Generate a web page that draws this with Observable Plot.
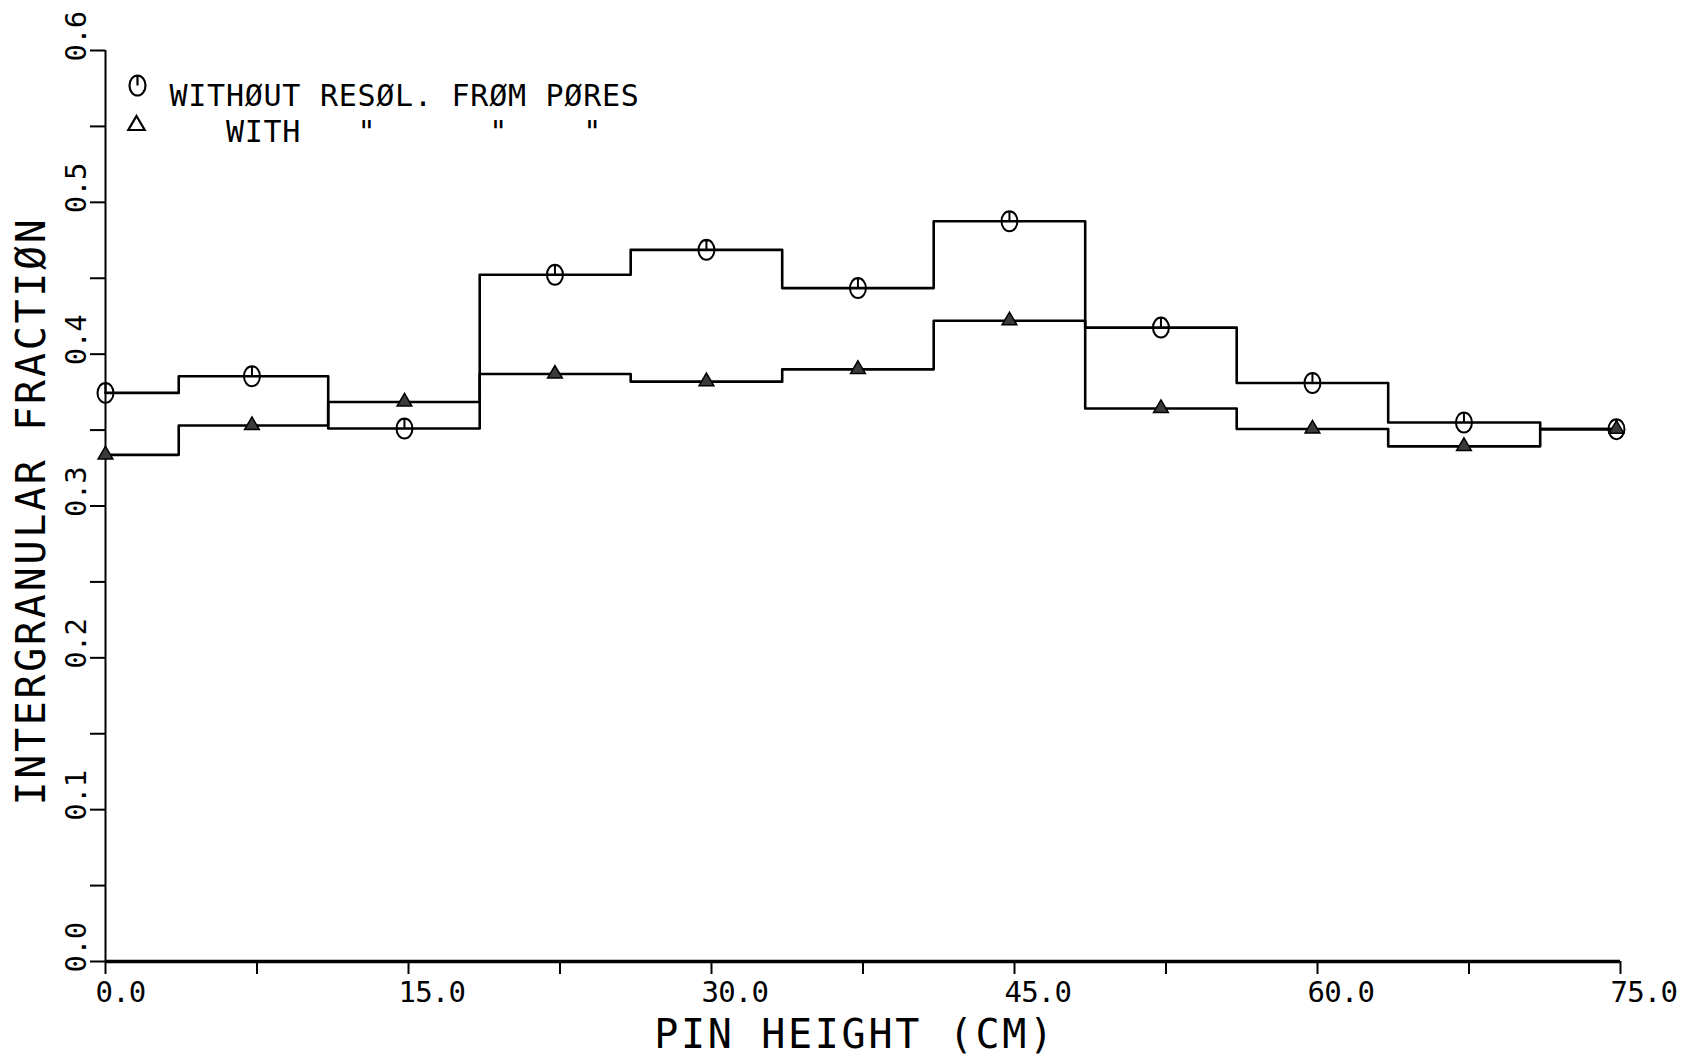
<!DOCTYPE html>
<html>
<head>
<meta charset="utf-8">
<script src="https://cdn.jsdelivr.net/npm/d3@7"></script>
<script src="https://cdn.jsdelivr.net/npm/@observablehq/plot@0.6"></script>
<style>
  html, body { margin: 0; padding: 0; background: #fff; overflow: hidden; }
  #chart svg { display: block; }
  svg text { white-space: pre; }
  g[font-size="40"] { letter-spacing: 2.7px; }
  g[font-size="29"] { letter-spacing: -0.8px; }
  g[font-size="30"] { letter-spacing: 0.74px; }
</style>
</head>
<body>
<div id="chart"></div>
<script>
// ---- data ----
const pinHeight = [0, 7.25, 14.8, 22.25, 29.75, 37.25, 44.75, 52.25, 59.75, 67.25, 74.8];
const withoutResolution = [0.3745, 0.3855, 0.351, 0.4523, 0.4687, 0.4435, 0.4875, 0.4175, 0.381, 0.355, 0.3506];
const withResolution = [0.3337, 0.353, 0.3685, 0.3869, 0.3819, 0.390, 0.422, 0.3642, 0.3507, 0.3393, 0.3506];

const xTicks = [0, 7.5, 15, 22.5, 30, 37.5, 45, 52.5, 60, 67.5, 75];
const xTickLabels = [0, 15, 30, 45, 60, 75];
const yTicks = [0, 0.05, 0.1, 0.15, 0.2, 0.25, 0.3, 0.35, 0.4, 0.45, 0.5, 0.55, 0.6];
const yTickLabels = [0, 0.1, 0.2, 0.3, 0.4, 0.5, 0.6];

const xTitle = "PIN HEIGHT (CM)";
const yTitle = "INTERGRANULAR FRACTIØN";
const legendLine1 = "WITHØUT RESØL. FRØM PØRES";
const legendLine2 = '   WITH   "      "    "';

// ---- tables built from the arrays ----
const seriesA = pinHeight.map((h, i) => ({h, v: withoutResolution[i]}));
const seriesB = pinHeight.map((h, i) => ({h, v: withResolution[i]}));

// plotter-style symbols
const ovalSymbol = {
  draw(ctx, size) {
    const r = Math.sqrt(size / Math.PI);
    const rx = r * 0.8, ry = r, k = 0.5523;
    ctx.moveTo(rx, 0);
    ctx.bezierCurveTo(rx, k * ry, k * rx, ry, 0, ry);
    ctx.bezierCurveTo(-k * rx, ry, -rx, k * ry, -rx, 0);
    ctx.bezierCurveTo(-rx, -k * ry, -k * rx, -ry, 0, -ry);
    ctx.bezierCurveTo(k * rx, -ry, rx, -k * ry, rx, 0);
    ctx.closePath();
    ctx.moveTo(0, -ry);
    ctx.lineTo(0, 0);
  }
};
const triSymbol = {
  draw(ctx, size) {
    const r = Math.sqrt(size / Math.PI);
    ctx.moveTo(0, -r * 0.95);
    ctx.lineTo(r * 0.82, r * 0.45);
    ctx.lineTo(-r * 0.82, r * 0.45);
    ctx.closePath();
  }
};

const font = "DejaVu Sans Mono";

const chart = Plot.plot({
  width: 1693,
  height: 1056,
  marginLeft: 105,
  marginRight: 73,
  marginTop: 50,
  marginBottom: 95,
  style: {fontFamily: font, background: "white", color: "black", overflow: "visible"},
  x: {domain: [0, 75]},
  y: {domain: [0, 0.6]},
  marks: [
    // axes
    Plot.axisX({ticks: xTicks, tickSize: 13, tickFormat: () => "", label: null, strokeWidth: 2}),
    Plot.axisY({ticks: yTicks, tickSize: 15, tickFormat: () => "", label: null, strokeWidth: 2}),
    Plot.ruleY([0], {strokeWidth: 3.5, stroke: "black"}),
    Plot.ruleX([0], {strokeWidth: 2, stroke: "black"}),
    // tick labels
    Plot.text(xTickLabels, {
      x: d => d, frameAnchor: "bottom", text: d => d.toFixed(1),
      textAnchor: "start", lineAnchor: "top", dx: -10, dy: 20,
      fontSize: 29, fontFamily: font, fill: "black"
    }),
    Plot.text(yTickLabels, {
      y: d => d, frameAnchor: "left", text: d => d.toFixed(1), rotate: -90,
      textAnchor: "start", lineAnchor: "middle", dx: -29, dy: 11,
      fontSize: 29, fontFamily: font, fill: "black"
    }),
    // axis titles
    Plot.text([xTitle], {
      frameAnchor: "bottom", text: d => d, textAnchor: "middle", lineAnchor: "middle",
      dx: -8, dy: 74, fontSize: 40, fontFamily: font, fill: "black"
    }),
    Plot.text([yTitle], {
      frameAnchor: "left", text: d => d, rotate: -90, textAnchor: "middle", lineAnchor: "middle",
      dx: -73, dy: 5, fontSize: 40, fontFamily: font, fill: "black"
    }),
    // step lines
    Plot.line(seriesA, {x: "h", y: "v", curve: "step", stroke: "black", strokeWidth: 2.6}),
    Plot.line(seriesB, {x: "h", y: "v", curve: "step", stroke: "black", strokeWidth: 2.6}),
    // markers
    Plot.dot(seriesA, {x: "h", y: "v", symbol: ovalSymbol, r: 10, stroke: "black", strokeWidth: 2, fill: "none"}),
    Plot.dot(seriesB, {x: "h", y: "v", symbol: triSymbol, r: 9, stroke: "black", strokeWidth: 1.5, fill: "#3a3a3a"}),
    // legend
    Plot.dot([legendLine1], {frameAnchor: "top-left", dx: 32, dy: 35, symbol: ovalSymbol, r: 10, stroke: "black", strokeWidth: 2.2, fill: "none"}),
    Plot.dot([legendLine2], {frameAnchor: "top-left", dx: 31, dy: 75, symbol: triSymbol, r: 10, stroke: "black", strokeWidth: 2.2, fill: "none"}),
    Plot.text([legendLine1 + "\n" + legendLine2], {
      frameAnchor: "top-left", text: d => d, textAnchor: "start", lineAnchor: "top",
      lineHeight: 1.17, dx: 64, dy: 31, fontSize: 30, fontFamily: font, fill: "black"
    })
  ]
});
document.getElementById("chart").appendChild(chart);
</script>
</body>
</html>
